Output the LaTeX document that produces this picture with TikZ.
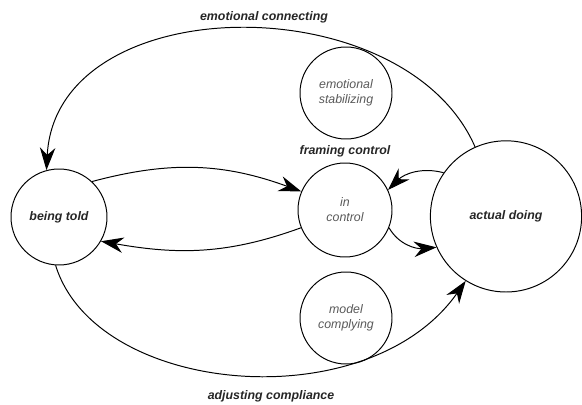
\documentclass[tikz,border=0pt]{standalone}
\usepackage{fontspec}
\setmainfont{Liberation Sans}
\usetikzlibrary{arrows.meta}

\begin{document}
\begin{tikzpicture}[
  state/.style={circle,draw,line width=0.7pt,inner sep=0pt,
    font=\fontsize{8.8}{10.7}\selectfont\itshape,text=black!65,align=center},
  mainstate/.style={state,font=\fontsize{8.8}{10.7}\selectfont\bfseries\itshape,text=black!85},
  flow/.style={line width=0.7pt,-{Stealth[length=16pt,width=11pt]}},
  flowlabel/.style={font=\fontsize{8.8}{10.7}\selectfont\bfseries\itshape,text=black!85}]
\useasboundingbox (0,0) rectangle (14.55,10.1);
\node[mainstate,minimum size=2.4cm] (told) at (1.475,4.675) {being told};
\node[state,minimum size=2.35cm] (control) at (8.625,4.85) {in\\control};
\node[state,minimum size=2.3cm] (stabilizing) at (8.65,7.775) {emotional\\stabilizing};
\node[state,minimum size=2.3cm] (complying) at (8.65,2.15) {model\\complying};
\node[mainstate,minimum size=3.78cm] (doing) at (12.65,4.69) {actual doing};
\node[flowlabel] (connecting) at (6.6,9.675) {emotional connecting};
\node[flowlabel] (framing) at (8.625,6.325) {framing control};
\node[flowlabel] (adjusting) at (6.775,0.2) {adjusting compliance};
\draw[flow] (doing.114) .. controls (10.1,10.5) and (1.4,10.4) .. (told.105);
\draw[flow] (told.266) .. controls (2.4,0.2) and (9.2,-0.4) .. (doing.238);
\draw[flow] (told.47) to[out=15,in=160] (control.157);
\draw[flow] (control.202) to[out=200,in=-10] (told.330);
\draw[flow] (doing.145) to[out=165,in=45] (control.25);
\draw[flow] (control.-22) to[out=-60,in=185] (doing.204);
\end{tikzpicture}
\end{document}
